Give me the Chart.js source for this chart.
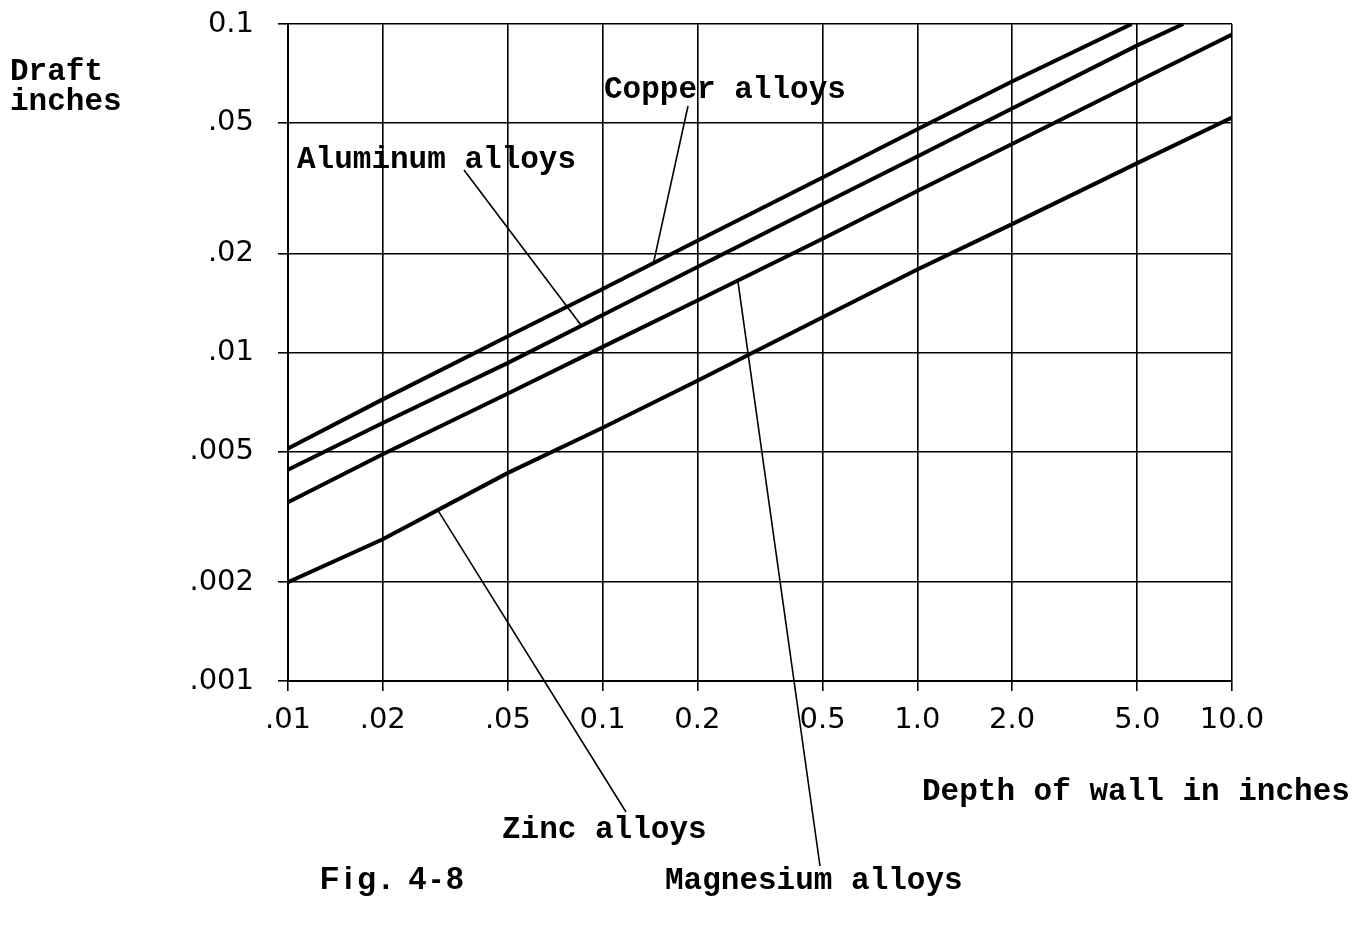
<!DOCTYPE html>
<html>
<head>
<meta charset="utf-8">
<title>Fig. 4-8 Draft vs depth of wall</title>
<script src="https://cdn.jsdelivr.net/npm/chart.js@4.4.1/dist/chart.umd.min.js"></script>
<style>
  html, body { margin: 0; padding: 0; background: #fff; }
  #wrap { width: 1363px; height: 926px; position: relative; }
</style>
</head>
<body>
<div id="wrap"><canvas id="chart"></canvas></div>
<script>
// eixos
const depthTicks = [0.01, 0.02, 0.05, 0.1, 0.2, 0.5, 1, 2, 5, 10];
const depthLabels = ['.01', '.02', '.05', '0.1', '0.2', '0.5', '1.0', '2.0', '5.0', '10.0'];
const draftTicks = [0.001, 0.002, 0.005, 0.01, 0.02, 0.05, 0.1];
const draftLabels = ['.001', '.002', '.005', '.01', '.02', '.05', '0.1'];

// curvas
const copperDepth = [0.01, 0.02, 0.05, 0.1, 0.2, 0.5, 1, 2, 4.8];
const copperDraft = [0.0051, 0.0072, 0.0112, 0.0156, 0.0219, 0.0341, 0.0478, 0.0668, 0.1];
const aluminumDepth = [0.01, 0.02, 0.05, 0.1, 0.2, 0.5, 1, 2, 5, 7.0];
const aluminumDraft = [0.0044, 0.0061, 0.0093, 0.0130, 0.0182, 0.0283, 0.0395, 0.0553, 0.0861, 0.1];
const magnesiumDepth = [0.01, 0.02, 0.05, 0.1, 0.2, 0.5, 1, 2, 5, 10];
const magnesiumDraft = [0.0035, 0.0049, 0.0075, 0.0104, 0.0144, 0.0222, 0.0310, 0.0431, 0.0668, 0.0929];
const zincDepth = [0.01, 0.02, 0.05, 0.1, 0.2, 0.5, 1, 2, 5, 10];
const zincDraft = [0.0020, 0.0027, 0.0043, 0.0059, 0.0082, 0.0128, 0.0179, 0.0246, 0.0377, 0.0519];

// pontas das setas de legenda (em coordenadas de dados, sobre a curva)
const labelTips = {
  copper: [0.145, 0.0187],
  aluminum: [0.086, 0.0120],
  magnesium: [0.269, 0.0165],
  zinc: [0.030, 0.0033]
};

const typeFont = 'bold 31px "Liberation Mono", "DejaVu Sans Mono", monospace';

// textos soltos + linhas de chamada
const notes = [
  { text: 'Draft', x: 10, y: 72 },
  { text: 'inches', x: 10, y: 102 },
  { text: 'Copper alloys', x: 604, y: 90, from: [688, 106], tip: 'copper' },
  { text: 'Aluminum alloys', x: 297, y: 160, from: [464, 170], tip: 'aluminum' },
  { text: 'Zinc alloys', x: 502, y: 830, from: [626, 812], tip: 'zinc' },
  { text: 'Magnesium alloys', x: 665, y: 881, from: [820, 866], tip: 'magnesium' },
  { text: 'Depth of wall in inches', x: 922, y: 792 }
];

const annotationsPlugin = {
  id: 'annotations',
  afterDatasetsDraw(chart) {
    const ctx = chart.ctx;
    const xs = chart.scales.x, ys = chart.scales.y;
    ctx.save();
    ctx.fillStyle = '#000';
    ctx.strokeStyle = '#000';
    ctx.lineWidth = 1.6;
    ctx.font = typeFont;
    ctx.textBaseline = 'middle';
    ctx.textAlign = 'left';
    notes.forEach(n => {
      ctx.fillText(n.text, n.x, n.y);
      if (n.tip) {
        const t = labelTips[n.tip];
        ctx.beginPath();
        ctx.moveTo(n.from[0], n.from[1]);
        ctx.lineTo(xs.getPixelForValue(t[0]), ys.getPixelForValue(t[1]));
        ctx.stroke();
      }
    });
    ctx.font = 'bold 31px "Liberation Sans", Arial, sans-serif';
    ctx.letterSpacing = '5px';
    ctx.fillText('Fig. 4-8', 320, 880);
    ctx.restore();
  }
};

function serie(depth, draft, label) {
  return {
    label: label,
    data: depth.map((d, i) => ({ x: d, y: draft[i] })),
    borderColor: '#000',
    borderWidth: 4,
    pointRadius: 0,
    tension: 0,
    fill: false
  };
}

const tickFont = { family: '"DejaVu Sans", sans-serif', size: 29 };

new Chart(document.getElementById('chart'), {
  type: 'line',
  data: {
    datasets: [
      serie(copperDepth, copperDraft, 'Copper alloys'),
      serie(aluminumDepth, aluminumDraft, 'Aluminum alloys'),
      serie(magnesiumDepth, magnesiumDraft, 'Magnesium alloys'),
      serie(zincDepth, zincDraft, 'Zinc alloys')
    ]
  },
  options: {
    responsive: true,
    maintainAspectRatio: false,
    animation: false,
    layout: { padding: { left: 0, top: 24, right: 131, bottom: 0 } },
    plugins: {
      legend: { display: false },
      tooltip: { enabled: false }
    },
    scales: {
      x: {
        type: 'logarithmic',
        min: 0.01,
        max: 10,
        afterBuildTicks: s => { s.ticks = depthTicks.map(v => ({ value: v })); },
        afterFit: s => { s.height = 245; s.paddingLeft = 0; s.paddingRight = 0; },
        grid: { color: '#000', lineWidth: 1.6, tickLength: 10, tickColor: '#000' },
        border: { color: '#000', width: 2 },
        ticks: {
          autoSkip: false,
          maxRotation: 0,
          padding: 12,
          color: '#000',
          font: tickFont,
          callback: (v, i) => depthLabels[i]
        }
      },
      y: {
        type: 'logarithmic',
        min: 0.001,
        max: 0.1,
        afterBuildTicks: s => { s.ticks = draftTicks.map(v => ({ value: v })); },
        afterFit: s => { s.width = 288; s.paddingTop = 0; s.paddingBottom = 0; },
        grid: { color: '#000', lineWidth: 1.6, tickLength: 10, tickColor: '#000' },
        border: { color: '#000', width: 2 },
        ticks: {
          autoSkip: false,
          padding: 24,
          color: '#000',
          font: tickFont,
          callback: (v, i) => draftLabels[i]
        }
      }
    }
  },
  plugins: [annotationsPlugin]
});
</script>
</body>
</html>
